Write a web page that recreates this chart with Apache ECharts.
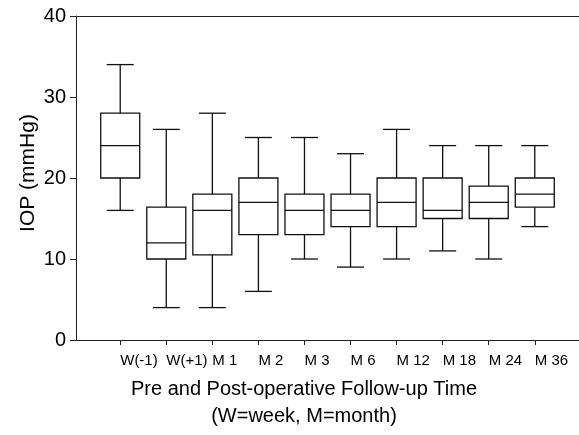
<!DOCTYPE html>
<html>
<head>
<meta charset="utf-8">
<title>IOP follow-up</title>
<script src="https://cdn.jsdelivr.net/npm/echarts@6/dist/echarts.min.js"></script>
<style>
  html, body { margin: 0; padding: 0; background: #fff; }
  #main { width: 579px; height: 435px; }
</style>
</head>
<body>
<div id="main"></div>
<script type="text/javascript">

// follow-up times
var categories = ['W(-1)', 'W(+1)', 'M 1', 'M 2', 'M 3', 'M 6', 'M 12', 'M 18', 'M 24', 'M 36'];

// box values, mmHg
var whiskerLow  = [16, 4, 4, 6, 10, 9, 10, 11, 10, 14];
var quart1      = [20, 10, 10.5, 13, 13, 14, 14, 15, 15, 16.4];
var medians     = [24, 12, 16, 17, 16, 16, 17, 16, 17, 18];
var quart3      = [28, 16.4, 18, 20, 18, 18, 20, 20, 19, 20];
var whiskerHigh = [34, 26, 28, 25, 25, 23, 26, 24, 24, 24];

var yTicks = [0, 10, 20, 30, 40];

var font = "'Liberation Sans', Arial, sans-serif";

var boxData = [];
for (var i = 0; i < categories.length; i++) {
    boxData.push([i, whiskerLow[i], quart1[i], medians[i], quart3[i], whiskerHigh[i]]);
}
var positions = categories.map(function (c, i) { return i; });

function renderBox(params, api) {
    var x = api.value(0);
    var low = api.coord([x, api.value(1)]);
    var q1 = api.coord([x, api.value(2)]);
    var med = api.coord([x, api.value(3)]);
    var q3 = api.coord([x, api.value(4)]);
    var high = api.coord([x, api.value(5)]);
    var half = 19.5, cap = 13.5;
    var cx = low[0];
    var lineStyle = { stroke: '#111', lineWidth: 1.3, fill: null };
    return {
        type: 'group',
        children: [
            { type: 'rect', shape: { x: cx - half, y: q3[1], width: half * 2, height: q1[1] - q3[1] }, style: lineStyle },
            { type: 'line', shape: { x1: cx - half, y1: med[1], x2: cx + half, y2: med[1] }, style: lineStyle },
            { type: 'line', shape: { x1: cx, y1: q3[1], x2: cx, y2: high[1] }, style: lineStyle },
            { type: 'line', shape: { x1: cx, y1: q1[1], x2: cx, y2: low[1] }, style: lineStyle },
            { type: 'line', shape: { x1: cx - cap, y1: high[1], x2: cx + cap, y2: high[1] }, style: lineStyle },
            { type: 'line', shape: { x1: cx - cap, y1: low[1], x2: cx + cap, y2: low[1] }, style: lineStyle }
        ]
    };
}

var myChart = echarts.init(document.getElementById('main'), null, { renderer: 'canvas' });

var option = {
    backgroundColor: '#fff',
    animation: false,
    textStyle: { fontFamily: font, color: '#000' },
    grid: {
        left: 76, top: 16, width: 507, bottom: 95, show: false
    },
    xAxis: [{
        type: 'value',
        min: -0.96,
        max: 9.96,
        splitLine: { show: false },
        axisLine: { show: true, onZero: false, lineStyle: { color: '#222', width: 1 } },
        axisTick: { show: true, inside: false, length: 5, customValues: positions, lineStyle: { color: '#222' } },
        axisLabel: {
            customValues: positions,
            formatter: function (v) { return categories[Math.round(v)]; },
            fontSize: 15, color: '#000', fontFamily: font,
            align: 'left', margin: 13
        }
    }, {
        // top frame line only
        type: 'value',
        position: 'top',
        min: -0.96,
        max: 9.96,
        splitLine: { show: false },
        axisLine: { show: true, onZero: false, lineStyle: { color: '#222', width: 1 } },
        axisTick: { show: false },
        axisLabel: { show: false }
    }],
    yAxis: {
        type: 'value',
        min: 0,
        max: 40,
        interval: 10,
        splitLine: { show: false },
        axisLine: { show: true, onZero: false, lineStyle: { color: '#222', width: 1 } },
        axisTick: { show: true, inside: false, length: 6, lineStyle: { color: '#222' } },
        axisLabel: {
            fontSize: 20, color: '#000', fontFamily: font, margin: 10,
            formatter: function (v) { return yTicks.indexOf(v) >= 0 ? String(v) : ''; }
        }
    },
    graphic: [
        { type: 'text', x: 28, y: 173, rotation: Math.PI / 2, style: { text: 'IOP (mmHg)', fontSize: 21, fontFamily: font, fill: '#000', textAlign: 'center', textVerticalAlign: 'middle' } },
        { type: 'text', x: 304, y: 389, style: { text: 'Pre and Post-operative Follow-up Time', fontSize: 20, fontFamily: font, fill: '#000', textAlign: 'center', textVerticalAlign: 'middle' } },
        { type: 'text', x: 304, y: 416, style: { text: '(W=week, M=month)', fontSize: 20, fontFamily: font, fill: '#000', textAlign: 'center', textVerticalAlign: 'middle' } }
    ],
    series: [{
        type: 'custom',
        renderItem: renderBox,
        encode: { x: 0, y: [1, 2, 3, 4, 5] },
        data: boxData
    }]
};

myChart.setOption(option);

</script>
</body>
</html>
